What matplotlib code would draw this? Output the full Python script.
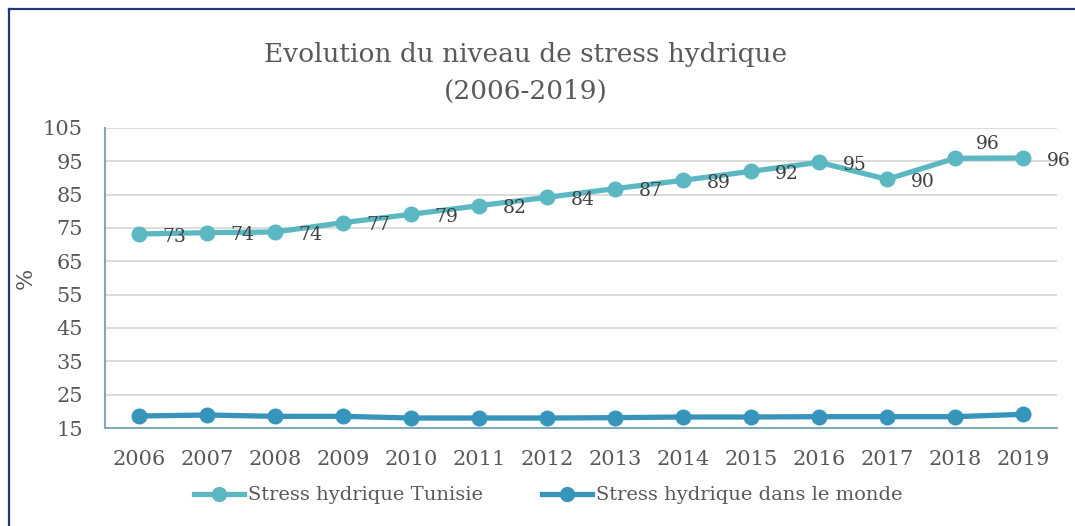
import matplotlib
matplotlib.use('Agg')
import matplotlib.pyplot as plt
from matplotlib.lines import Line2D

years = ['2006', '2007', '2008', '2009', '2010', '2011', '2012',
         '2013', '2014', '2015', '2016', '2017', '2018', '2019']
tunisie = [73.2, 73.6, 73.8, 76.6, 79.1, 81.7, 84.2,
           86.8, 89.3, 92.0, 94.7, 89.6, 95.9, 96.0]
monde = [18.6, 18.9, 18.5, 18.5, 18.0, 18.0, 18.0,
         18.1, 18.3, 18.3, 18.4, 18.4, 18.4, 19.1]
y_ticks = [15, 25, 35, 45, 55, 65, 75, 85, 95, 105]

plt.rcParams['font.family'] = ['DejaVu Serif']
grey = '#595959'
c_tun = '#5bb8c2'
c_world = '#3795bb'

fig = plt.figure(figsize=(10.75, 5.26), dpi=100)
ax = fig.add_axes([0.0977, 0.1863, 0.8856, 0.5704])

x = list(range(len(years)))
ax.plot(x, tunisie, color=c_tun, lw=3.8, marker='o', ms=10.5,
        solid_capstyle='round', zorder=3)
ax.plot(x, monde, color=c_world, lw=3.8, marker='o', ms=10.5,
        solid_capstyle='round', zorder=3)

for i, v in enumerate(tunisie):
    dx, dy = 17, -2
    if years[i] == '2018':
        dx, dy = 15, 10
    ax.annotate(f"{v:.0f}", (i, v), xytext=(dx, dy), textcoords='offset points',
                ha='left', va='center', fontsize=13.5, color='#404040')

ax.set_xlim(-0.5, len(years) - 0.5)
ax.set_ylim(15, 105)
ax.set_yticks(y_ticks)
ax.set_xticks(x)
ax.set_xticklabels(years)
ax.tick_params(length=0, labelsize=15, colors=grey)
ax.tick_params(axis='x', pad=16)
ax.tick_params(axis='y', pad=16)
ax.grid(axis='y', color='#d9d9d9', lw=1.3)
ax.set_axisbelow(True)
for s in ['top', 'right']:
    ax.spines[s].set_visible(False)
for s in ['left', 'bottom']:
    ax.spines[s].set_color('#7fabb6')
    ax.spines[s].set_linewidth(1.5)

ax.set_ylabel('%', fontsize=16, color=grey, labelpad=4)

fig.text(0.489, 0.862, 'Evolution du niveau de stress hydrique\n(2006-2019)',
         ha='center', va='center', fontsize=19, color=grey, linespacing=1.6)

handles = [Line2D([], [], color=c_tun, lw=3.8, marker='o', ms=10),
           Line2D([], [], color=c_world, lw=3.8, marker='o', ms=10)]
fig.legend(handles, ['Stress hydrique Tunisie', 'Stress hydrique dans le monde'],
           loc='center', bbox_to_anchor=(0.51, 0.058), ncol=2, frameon=False,
           fontsize=14, labelcolor=grey, handlelength=2.6, handletextpad=0.2,
           columnspacing=3.0)

# navy frame on the left and top edges
fig.add_artist(Line2D([0.0088, 0.0088], [0, 0.983], color='#1f3a7a', lw=1.6,
                      transform=fig.transFigure))
fig.add_artist(Line2D([0.0088, 1], [0.983, 0.983], color='#1f3a7a', lw=1.6,
                      transform=fig.transFigure))

fig.savefig('out.png', dpi=100)
